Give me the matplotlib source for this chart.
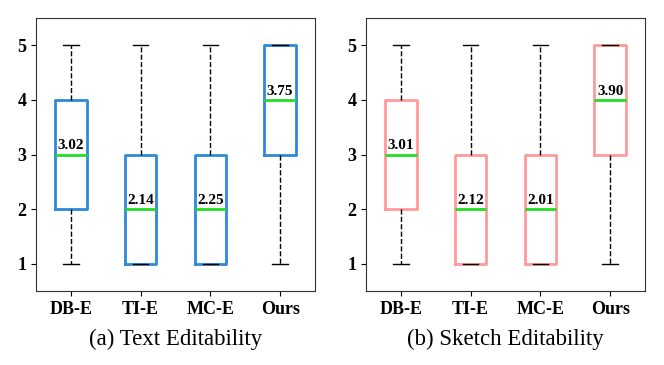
import matplotlib.pyplot as plt

plt.rcParams['font.family'] = ['Liberation Serif', 'DejaVu Serif']

methods = ['DB-E', 'TI-E', 'MC-E', 'Ours']

# box stats: whisker low, q1, median, q3, whisker high
text_whislo = [1, 1, 1, 1]
text_q1 = [2, 1, 1, 3]
text_med = [3, 2, 2, 4]
text_q3 = [4, 3, 3, 5]
text_whishi = [5, 5, 5, 5]
text_mean = [3.02, 2.14, 2.25, 3.75]

sketch_whislo = [1, 1, 1, 1]
sketch_q1 = [2, 1, 1, 3]
sketch_med = [3, 2, 2, 4]
sketch_q3 = [4, 3, 3, 5]
sketch_whishi = [5, 5, 5, 5]
sketch_mean = [3.01, 2.12, 2.01, 3.90]

captions = ['(a) Text Editability', '(b) Sketch Editability']
colors = ['#2e8ad8', '#ff9a9a']


def draw(ax, lo, q1, med, q3, hi, mean, color, caption):
    stats = []
    for i in range(len(methods)):
        stats.append({'whislo': lo[i], 'q1': q1[i], 'med': med[i], 'q3': q3[i],
                      'whishi': hi[i], 'fliers': [], 'label': methods[i]})
    ax.bxp(stats, positions=range(1, len(methods) + 1), widths=0.45,
           showfliers=False,
           boxprops=dict(color=color, linewidth=2),
           medianprops=dict(color='#22dd22', linewidth=2),
           whiskerprops=dict(color='black', linestyle='--', linewidth=1),
           capprops=dict(color='black', linewidth=1))
    for i in range(len(methods)):
        ax.text(i + 1, med[i] + 0.04, '%.2f' % mean[i], ha='center', va='bottom',
                fontsize=11, fontweight='bold')
    ax.set_xlim(0.5, 4.5)
    ax.set_ylim(0.5, 5.5)
    ax.set_yticks([1, 2, 3, 4, 5])
    for lab in ax.get_xticklabels() + ax.get_yticklabels():
        lab.set_fontweight('bold')
        lab.set_fontsize(13)
    for sp in ax.spines.values():
        sp.set_color('#333333')
    ax.set_xlabel(caption, fontsize=16.5, labelpad=8)


fig = plt.figure(figsize=(6.64, 3.65), dpi=100)
ax1 = fig.add_axes([36 / 664, 74 / 365, 279 / 664, 273 / 365])
ax2 = fig.add_axes([366 / 664, 74 / 365, 279 / 664, 273 / 365])

draw(ax1, text_whislo, text_q1, text_med, text_q3, text_whishi, text_mean,
     colors[0], captions[0])
draw(ax2, sketch_whislo, sketch_q1, sketch_med, sketch_q3, sketch_whishi,
     sketch_mean, colors[1], captions[1])

fig.savefig('out.png', dpi=100)
